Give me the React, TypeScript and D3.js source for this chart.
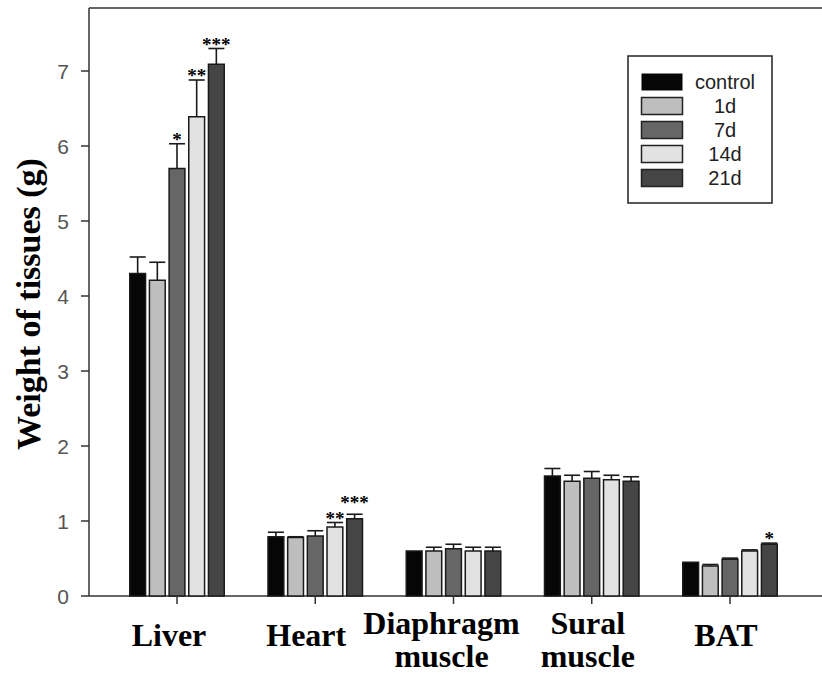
import React from 'react';
import * as d3 from 'd3';

// categories on the x axis (split into label lines)
const categories = ['Liver', 'Heart', 'Diaphragm muscle', 'Sural muscle', 'BAT'];
const categoryLines = [['Liver'], ['Heart'], ['Diaphragm', 'muscle'], ['Sural', 'muscle'], ['BAT']];

// series (treatment groups)
const seriesNames = ['control', '1d', '7d', '14d', '21d'];
const seriesColors = ['#060606', '#bebebe', '#666666', '#e2e2e2', '#454545'];

// mean weights (g), one array per series, in category order
const controlVals = [4.30, 0.79, 0.60, 1.60, 0.45];
const d1Vals = [4.21, 0.78, 0.60, 1.53, 0.40];
const d7Vals = [5.70, 0.80, 0.63, 1.57, 0.49];
const d14Vals = [6.39, 0.92, 0.60, 1.55, 0.60];
const d21Vals = [7.09, 1.03, 0.60, 1.53, 0.69];

// upper error (SE)
const controlErr = [0.22, 0.06, 0.0, 0.10, 0.0];
const d1Err = [0.24, 0.01, 0.05, 0.08, 0.02];
const d7Err = [0.33, 0.07, 0.06, 0.09, 0.015];
const d14Err = [0.49, 0.06, 0.05, 0.06, 0.015];
const d21Err = [0.21, 0.06, 0.05, 0.06, 0.015];

// significance marks
const controlSig = ['', '', '', '', ''];
const d1Sig = ['', '', '', '', ''];
const d7Sig = ['*', '', '', '', ''];
const d14Sig = ['**', '**', '', '', ''];
const d21Sig = ['***', '***', '', '', '*'];

const values = [controlVals, d1Vals, d7Vals, d14Vals, d21Vals];
const errors = [controlErr, d1Err, d7Err, d14Err, d21Err];
const sigs = [controlSig, d1Sig, d7Sig, d14Sig, d21Sig];

const yTickValues = [0, 1, 2, 3, 4, 5, 6, 7];

export default function App() {
    const width = 822;
    const height = 680;
    const left = 89;
    const top = 8;
    const bottom = 596;

    const y = d3.scaleLinear().domain([0, 7.84]).range([bottom, top]);
    const x = d3.scalePoint<string>().domain(categories).range([177, 730]);
    const inner = d3.scaleBand<string>().domain(seriesNames).range([-48, 48]).paddingInner(0.12);
    const bw = inner.bandwidth();

    const legendRow = d3.scaleLinear().domain([0, 4]).range([82, 178]);

    const stroke = '#1a1a1a';
    const serif = "'Liberation Serif', 'Times New Roman', serif";

    // small label nudges relative to tick (labels in the original are not exactly centred)
    const labelShift = [-8, -9, -12, -4, -4];

    return (
        <svg width={width} height={height} style={{ position: 'absolute', left: 0, top: 0, background: '#fff' }}>
            {/* frame */}
            <line x1={left} x2={left} y1={top} y2={bottom} stroke="#333" strokeWidth={1.5} />
            <line x1={left} x2={width} y1={top} y2={top} stroke="#333" strokeWidth={1.5} />
            <line x1={left} x2={width} y1={bottom} y2={bottom} stroke="#333" strokeWidth={1.5} />

            {/* y axis ticks */}
            {yTickValues.map(t => (
                <g key={t}>
                    <line x1={left - 8} x2={left} y1={y(t)} y2={y(t)} stroke="#333" strokeWidth={1.5} />
                    <text x={69} y={y(t)} dy="0.36em" textAnchor="end"
                        style={{ fontFamily: "'Liberation Sans', Arial, sans-serif", fontSize: 21, fill: '#555' }}>
                        {t}
                    </text>
                </g>
            ))}

            {/* y title */}
            <text transform={`translate(40,304) rotate(-90)`} textAnchor="middle"
                style={{ fontFamily: serif, fontWeight: 'bold', fontSize: 34, fill: '#000' }}>
                Weight of tissues (g)
            </text>

            {/* bars */}
            {categories.map((c, ci) => (
                <g key={c} transform={`translate(${x(c)},0)`}>
                    {seriesNames.map((s, si) => {
                        const v = values[si][ci];
                        const e = errors[si][ci];
                        const bx = inner(s)!;
                        const cx = bx + bw / 2;
                        const errTop = y(v + e);
                        // neighbouring marks over the heart bars are staggered in the original
                        const lift = ci === 1 && si === 4 ? -5 : 2;
                        return (
                            <g key={s}>
                                <rect x={bx + 0.75} y={y(v)} width={bw - 1.5} height={bottom - y(v)}
                                    fill={seriesColors[si]} stroke={stroke} strokeWidth={1.5} />
                                {e > 0 && (
                                    <g stroke={stroke} strokeWidth={1.6}>
                                        <line x1={cx} x2={cx} y1={y(v)} y2={errTop} />
                                        <line x1={cx - 8} x2={cx + 8} y1={errTop} y2={errTop} />
                                    </g>
                                )}
                                {sigs[si][ci] && (
                                    <text x={cx} y={errTop + lift} textAnchor="middle"
                                        style={{ fontFamily: serif, fontWeight: 'bold', fontSize: 19, fill: '#000' }}>
                                        {sigs[si][ci]}
                                    </text>
                                )}
                            </g>
                        );
                    })}
                    <line x1={0} x2={0} y1={bottom} y2={bottom + 8} stroke="#333" strokeWidth={1.5} />
                </g>
            ))}

            {/* x labels */}
            {categories.map((c, ci) => {
                const lines = categoryLines[ci];
                const baseY = lines.length === 1 ? 646 : 634;
                const lx = x(c)! + labelShift[ci];
                return lines.map((l, li) => (
                    <text key={c + li} x={lx} y={baseY + li * 33} textAnchor="middle"
                        style={{ fontFamily: serif, fontWeight: 'bold', fontSize: 32, fill: '#000' }}>
                        {l}
                    </text>
                ));
            })}

            {/* legend */}
            <rect x={628} y={56} width={144} height={147} fill="#fff" stroke="#222" strokeWidth={1.5} />
            {seriesNames.map((s, si) => (
                <g key={s}>
                    <rect x={641.5} y={legendRow(si) - 8.5} width={41} height={17} fill={seriesColors[si]}
                        stroke={si === 0 ? 'none' : '#222'} strokeWidth={1.5} />
                    <text x={725} y={legendRow(si)} dy="0.36em" textAnchor="middle"
                        style={{ fontFamily: "'Liberation Sans', Arial, sans-serif", fontSize: 20, fill: '#222' }}>
                        {s}
                    </text>
                </g>
            ))}
        </svg>
    );
}
